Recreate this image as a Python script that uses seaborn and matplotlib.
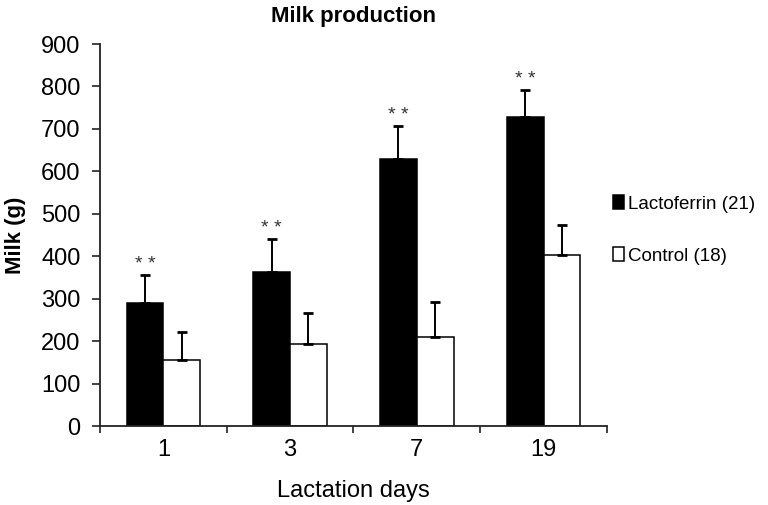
import numpy as np
import pandas as pd
import matplotlib
matplotlib.use("Agg")
import matplotlib.pyplot as plt
import seaborn as sns

# Données
days = ["1", "3", "7", "19"]
lacto_mean = [290, 364, 630, 727]
lacto_sd = [66, 76, 77, 65]
control_mean = [155, 193, 210, 403]
control_sd = [66, 73, 82, 71]
groups = ["Lactoferrin (21)", "Control (18)"]
signif = ["* *", "* *", "* *", "* *"]

sns.set_theme(style="ticks")
plt.rcParams['font.family'] = ['Liberation Sans', 'DejaVu Sans']
plt.rcParams['text.color'] = 'black'
plt.rcParams['axes.labelcolor'] = 'black'
plt.rcParams['xtick.labelcolor'] = 'black'
plt.rcParams['ytick.labelcolor'] = 'black'

df = pd.DataFrame({
    "day": days * 2,
    "group": [groups[0]] * 4 + [groups[1]] * 4,
    "milk": lacto_mean + control_mean,
})

fig = plt.figure(figsize=(7.68, 5.05), dpi=100)
ax = fig.add_axes([0.1302, 0.1564, 0.660, 0.7564])

sns.barplot(data=df, x="day", y="milk", hue="group", order=days,
            hue_order=groups, palette=["black", "white"], width=0.58,
            errorbar=None, edgecolor="black", linewidth=1.1, ax=ax,
            saturation=1)

# Barres d'erreur (côté supérieur seulement)
for cont, means, sds in zip(ax.containers, [lacto_mean, control_mean], [lacto_sd, control_sd]):
    xs = [p.get_x() + p.get_width() / 2 for p in cont.patches]
    ax.errorbar(xs, means, yerr=[np.zeros(len(sds)), sds], fmt="none",
                ecolor="black", elinewidth=1.4, capsize=3.8, capthick=2)

# Astérisques
xs_l = [p.get_x() + p.get_width() / 2 for p in ax.containers[0].patches]
for x, m, s, t in zip(xs_l, lacto_mean, lacto_sd, signif):
    ax.text(x, m + s + 5, t, ha="center", va="bottom", fontsize=14, color="#333333")

ax.set_ylim(0, 900)
ax.set_xlim(-0.5, 3.5)
ax.set_yticks(np.arange(0, 901, 100))
ax.tick_params(axis="y", length=6, width=1.2, pad=8, labelsize=17, color="#222222")
ax.tick_params(axis="x", which="major", length=0, pad=9, labelsize=17)
ax.set_xticks(np.arange(-0.5, 3.6, 1), minor=True)
ax.tick_params(axis="x", which="minor", length=5, width=1.2, color="#222222")

for s in ["top", "right"]:
    ax.spines[s].set_visible(False)
for s in ["left", "bottom"]:
    ax.spines[s].set_linewidth(1.3)
    ax.spines[s].set_color("#222222")

ax.set_xlabel("Lactation days", fontsize=17, labelpad=14)
ax.set_ylabel("Milk (g)", fontsize=16, fontweight="bold", labelpad=11)
ax.set_title("Milk production", fontsize=16, fontweight="bold", pad=16)

leg = ax.legend(loc="center left", bbox_to_anchor=(0.99, 0.513), frameon=False,
                fontsize=13.5, handlelength=0.6, handleheight=0.75,
                handletextpad=0.2, labelspacing=1.83, borderaxespad=0.2)

plt.savefig("out.png", dpi=100)
